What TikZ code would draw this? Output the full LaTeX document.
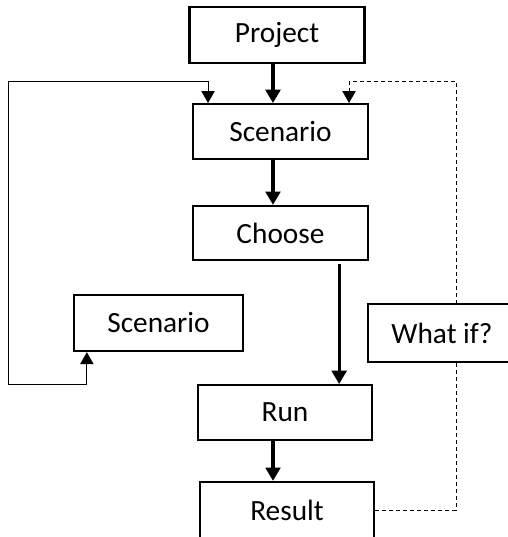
\documentclass[tikz,border=0pt]{standalone}
\usepackage{fontspec}
\setmainfont{Carlito}
\usetikzlibrary{arrows.meta,calc}

\tikzset{
  box/.style={draw,line width=1.7pt,fill=white,inner sep=0pt,
    minimum width=131pt,minimum height=41pt,
    font=\fontsize{22}{26}\selectfont},
  flow/.style={line width=2.4pt,-{Triangle[width=11pt,length=10pt]}},
  link/.style={line width=0.75pt},
  head/.tip={Triangle[width=10pt,length=9pt]}
}

\begin{document}
\begin{tikzpicture}[x=0.75pt,y=-0.75pt]
    \useasboundingbox (0,0) rectangle (508,537);
    \clip (0,0) rectangle (508,537);
    % main column
    \node[box,line width=2.2pt,minimum height=42pt] (project) at (277,35) {Project};
    \node[box] (scen) at (280.5,131.5) {Scenario};
    \node[box,minimum height=40.5pt] (choose) at (280.5,233) {Choose};
    \node[box] (run) at (285,412.5) {Run};
    \node[box,minimum height=42pt] (result) at (287,510) {Result};
    \node[box,minimum width=126.75pt,minimum height=42pt] (scenalt) at (158.5,323) {Scenario};

    \draw[flow] ([xshift=-3pt]project.south) -- ([xshift=-3pt]project.south |- scen.north);
    \draw[flow] ([xshift=-3pt]project.south |- scen.south) -- ([xshift=-3pt]project.south |- choose.north);
    \draw[flow] ([xshift=44pt,yshift=-2pt]choose.south) -- ([xshift=44pt]choose.south |- run.north);
    \draw[flow] ([xshift=-3pt]project.south |- run.south) -- ([xshift=-3pt]project.south |- result.north);

    % loop back from the second scenario
    \coordinate (loopbot) at (8,384);
    \coordinate (looptop) at (8,81);
    \draw[link,{head}-{head}] ([xshift=10.5pt]scenalt.south west)
      -- ([xshift=10.5pt]scenalt.south west |- loopbot) -- (loopbot)
      -- (looptop) -- (looptop -| {$(scen.north west)+(12pt,0)$})
      -- ([xshift=12pt]scen.north west);

    % what if
    \coordinate (dashtop) at (456,81);
    \draw[link,dashed,dash pattern=on 3pt off 2.25pt,-{head}] (result.east) -| (dashtop)
      -| ([xshift=117.75pt]scen.north west);
    \node[box,minimum width=111pt,minimum height=43.5pt] (whatif) at (442,333) {What if?};
\end{tikzpicture}
\end{document}
